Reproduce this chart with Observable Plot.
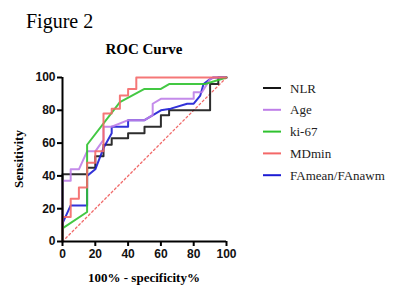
<!DOCTYPE html>
<html>
<head>
<meta charset="utf-8">
<script src="https://cdn.jsdelivr.net/npm/d3@7"></script>
<script src="https://cdn.jsdelivr.net/npm/@observablehq/plot@0.6"></script>
<style>
  html, body { margin: 0; padding: 0; background: #fff; }
  #chart { width: 400px; height: 299px; position: relative; }
</style>
</head>
<body>
<div id="chart"></div>
<script>
// ---- data ----
const seriesNames = ["NLR", "Age", "ki-67", "MDmin", "FAmean/FAnawm"];
const seriesColors = ["#161616", "#be7ee8", "#2fc22f", "#f46868", "#1c1cd4"];
const drawOrder = ["NLR", "FAmean/FAnawm", "Age", "ki-67", "MDmin"];

const nlrX = [0, 0, 15, 15, 20, 20, 25, 25, 30, 30, 40, 40, 50, 50, 60, 60, 65, 65, 90, 90, 95, 95, 100];
const nlrY = [0, 41, 41, 45, 45, 52, 52, 59, 59, 63, 63, 66, 66, 70, 70, 77, 77, 80, 80, 96, 96, 100, 100];

const ageX = [0, 0, 5, 5, 10, 15, 20, 25, 25, 30, 40, 50, 55, 55, 60, 80, 80, 85, 90, 92, 100];
const ageY = [0, 37, 37, 44, 44, 55, 55, 62, 70, 70, 74, 74, 77, 84, 87, 87, 91, 91, 99, 100, 100];

const ki67X = [0, 0, 15, 15, 35, 50, 60, 65, 87, 100];
const ki67Y = [0, 8, 18, 59, 85, 93, 93, 96, 96, 100];

const mdminX = [0, 0, 5, 5, 10, 10, 15, 15, 20, 20, 25, 25, 30, 30, 35, 35, 40, 40, 45, 45, 100];
const mdminY = [0, 15, 15, 26, 26, 33, 33, 48, 48, 55, 55, 78, 78, 81, 81, 89, 89, 93, 93, 100, 100];

const famX = [0, 0, 5, 15, 15, 20, 25, 30, 30, 40, 40, 50, 60, 66, 76, 80, 84, 86, 90, 92, 100];
const famY = [0, 11, 22, 22, 40, 44, 57, 66, 70, 70, 74, 74, 80, 81, 84, 84, 89, 96, 99, 100, 100];

const diagX = [0, 100];
const diagY = [0, 100];

const xTicks = [0, 20, 40, 60, 80, 100];
const yTicks = [0, 20, 40, 60, 80, 100];

const titleText = "ROC Curve";
const figureText = "Figure 2";
const xLabel = "100% - specificity%";
const yLabel = "Sensitivity";

// ---- build table ----
const seriesData = {
  "NLR": [nlrX, nlrY],
  "Age": [ageX, ageY],
  "ki-67": [ki67X, ki67Y],
  "MDmin": [mdminX, mdminY],
  "FAmean/FAnawm": [famX, famY]
};
const rows = [];
for (const name of drawOrder) {
  const [xs, ys] = seriesData[name];
  xs.forEach((x, i) => rows.push({series: name, x, y: ys[i]}));
}
const diagRows = diagX.map((x, i) => ({x, y: diagY[i]}));

const W = 400, H = 299;
const mL = 62, mR = 174, mT = 77, mB = 58;

const svg = Plot.plot({
  width: W,
  height: H,
  marginLeft: mL,
  marginRight: mR,
  marginTop: mT,
  marginBottom: mB,
  style: {fontFamily: "'Liberation Sans', Arial, sans-serif", fontSize: "12px", fontWeight: "bold", background: "#fff", overflow: "visible"},
  x: {domain: [0, 100]},
  y: {domain: [0, 100]},
  color: {domain: seriesNames, range: seriesColors},
  marks: [
    Plot.line(diagRows, {x: "x", y: "y", stroke: "#f06a6a", strokeWidth: 1.3, strokeDasharray: "2,2.6"}),
    Plot.line(rows, {x: "x", y: "y", z: "series", stroke: "series", strokeWidth: 2, strokeOpacity: 0.9}),
    Plot.ruleX([0], {stroke: "#000", strokeWidth: 2}),
    Plot.ruleY([0], {stroke: "#000", strokeWidth: 2}),
    Plot.axisX({ticks: xTicks, tickSize: 5, tickPadding: 3, strokeWidth: 2, label: null, fill: "#111", fontSize: 12, fontWeight: "bold"}),
    Plot.axisY({ticks: yTicks, tickSize: 5, tickPadding: 2, strokeWidth: 2, label: null, fill: "#111", fontSize: 12, fontWeight: "bold"})
  ]
});

document.getElementById("chart").appendChild(svg);

// ---- annotation texts & legend ----
const s = d3.select(svg);
const serif = "'Liberation Serif', 'Times New Roman', serif";

s.append("text").attr("x", 26).attr("y", 28).attr("text-anchor", "start")
  .attr("font-family", serif).attr("font-size", 20).attr("font-weight", "normal")
  .attr("fill", "#000").text(figureText);

s.append("text").attr("x", (mL + W - mR) / 2).attr("y", 54).attr("text-anchor", "middle")
  .attr("font-family", serif).attr("font-size", 15).attr("font-weight", "bold")
  .attr("fill", "#000").text(titleText);

s.append("text").attr("x", (mL + W - mR) / 2).attr("y", 282).attr("text-anchor", "middle")
  .attr("font-family", serif).attr("font-size", 13).attr("font-weight", "bold")
  .attr("fill", "#000").text(xLabel);

s.append("text").attr("transform", `translate(23, ${(mT + H - mB) / 2}) rotate(-90)`)
  .attr("text-anchor", "middle")
  .attr("font-family", serif).attr("font-size", 13).attr("font-weight", "bold")
  .attr("fill", "#000").text(yLabel);

const lg = s.append("g");
seriesNames.forEach((name, i) => {
  const yy = 88 + i * 21.8;
  lg.append("line").attr("x1", 263).attr("x2", 281).attr("y1", yy).attr("y2", yy)
    .attr("stroke", seriesColors[i]).attr("stroke-width", 2);
  lg.append("text").attr("x", 290).attr("y", yy + 4.5).attr("text-anchor", "start")
    .attr("font-family", serif).attr("font-size", 13).attr("font-weight", "normal")
    .attr("fill", "#222").text(name);
});
</script>
</body>
</html>
